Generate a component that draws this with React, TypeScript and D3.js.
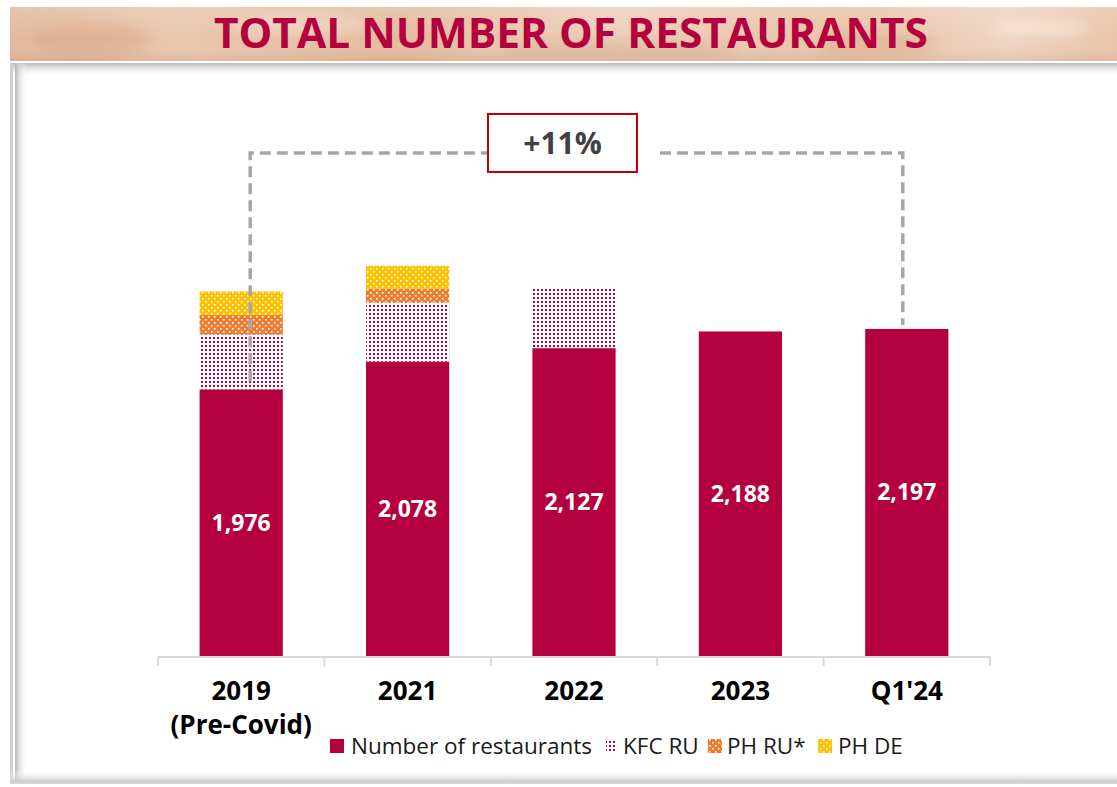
import React from "react";
import * as d3 from "d3";

const categories = ["2019|(Pre-Covid)", "2021", "2022", "2023", "Q1'24"];
const restaurants = [1976, 2078, 2127, 2188, 2197];
const kfcRu = [201, 216, 219, 0, 0];
const phRu = [71, 50, 0, 0, 0];
const phDe = [86, 84, 0, 0, 0];
const seriesNames = ["Number of restaurants", "KFC RU", "PH RU*", "PH DE"];
const growthLabel = "+11%";
const title = "TOTAL NUMBER OF RESTAURANTS";

const W = 1117;
const H = 787;
const CRIMSON = "#b50040";
const ORANGE = "#ed7d31";
const GOLD = "#ffc000";
const FONT = "'Open Sans', 'Noto Sans', sans-serif";

export default function App() {
  const x = d3.scaleBand<string>().domain(categories).range([158, 990]).paddingInner(0.5).paddingOuter(0.25);
  const y = d3.scaleLinear().domain([1000, 3000]).range([656, 109.6]);
  const yMin = 1000;

  const rows = categories.map((c, i) => ({
    cat: c,
    main: restaurants[i],
    kfc: kfcRu[i],
    phru: phRu[i],
    phde: phDe[i],
  }));
  const stack = d3.stack<any>().keys(["main", "kfc", "phru", "phde"])(rows);
  const fills = [CRIMSON, "url(#kfc)", "url(#phru)", "url(#phde)"];

  const bw = x.bandwidth();
  const step = x.step();
  const axisStart = x(categories[0])! - (step - bw) / 2;
  const tickXs = categories.map((c) => x(c)! - (step - bw) / 2).concat([axisStart + step * categories.length]);

  const cx = (c: string) => x(c)! + bw / 2;
  const leftX = cx(categories[0]) + 9;
  const rightX = cx(categories[categories.length - 1]) - 4;
  const bracketY = 153;
  const boxX0 = 488;
  const boxX1 = 637;

  const legendItems = [
    { name: seriesNames[0], mx: 330, mw: 14, tx: 351, fill: CRIMSON },
    { name: seriesNames[1], mx: 606, mw: 10, tx: 623, fill: "url(#kfcL)" },
    { name: seriesNames[2], mx: 708, mw: 14, tx: 727, fill: "url(#phru)" },
    { name: seriesNames[3], mx: 818, mw: 14, tx: 838, fill: "url(#phde)" },
  ];

  return (
    <svg width={W} height={H} style={{ position: "absolute", left: 0, top: 0, background: "#fff" }}>
      <defs>
        <linearGradient id="hdr" x1="0" x2="1" y1="0" y2="0">
          <stop offset="0" stopColor="#e2b89c" />
          <stop offset="0.15" stopColor="#e9c7ae" />
          <stop offset="0.35" stopColor="#e4bb9e" />
          <stop offset="0.55" stopColor="#edd0bb" />
          <stop offset="0.75" stopColor="#e8c3a7" />
          <stop offset="0.9" stopColor="#efd3bf" />
          <stop offset="1" stopColor="#e9c4a9" />
        </linearGradient>
        <linearGradient id="hdrV" x1="0" x2="0" y1="0" y2="1">
          <stop offset="0" stopColor="#ffffff" stopOpacity="0.15" />
          <stop offset="0.6" stopColor="#ffffff" stopOpacity="0" />
          <stop offset="1" stopColor="#b07a5a" stopOpacity="0.18" />
        </linearGradient>
        <filter id="blur" x="-20%" y="-50%" width="140%" height="200%">
          <feGaussianBlur stdDeviation="6" />
        </filter>
        <linearGradient id="shTop" x1="0" x2="0" y1="0" y2="1">
          <stop offset="0" stopColor="#b8b8b8" />
          <stop offset="1" stopColor="#ffffff" stopOpacity="0" />
        </linearGradient>
        <linearGradient id="shLeft" x1="0" x2="1" y1="0" y2="0">
          <stop offset="0" stopColor="#b8b8b8" />
          <stop offset="1" stopColor="#ffffff" stopOpacity="0" />
        </linearGradient>
        <linearGradient id="shBot" x1="0" x2="0" y1="1" y2="0">
          <stop offset="0" stopColor="#c8c8c8" />
          <stop offset="1" stopColor="#ffffff" stopOpacity="0" />
        </linearGradient>
        <pattern id="kfc" width="4" height="4" patternUnits="userSpaceOnUse">
          <rect width="4" height="4" fill="#fff" />
          <rect x="1" y="1" width="2" height="2" fill={CRIMSON} />
        </pattern>
        <pattern id="kfcL" width="4" height="4" patternUnits="userSpaceOnUse">
          <rect width="4" height="4" fill="#fff" />
          <rect x="1" y="1" width="2" height="2" fill={CRIMSON} />
        </pattern>
        <pattern id="phru" width="6" height="6" patternUnits="userSpaceOnUse">
          <rect width="6" height="6" fill={ORANGE} />
          <rect x="1" y="1" width="1.6" height="1.6" fill="#fff" />
          <rect x="4" y="4" width="1.6" height="1.6" fill="#fff" />
        </pattern>
        <pattern id="phde" width="6" height="6" patternUnits="userSpaceOnUse">
          <rect width="6" height="6" fill={GOLD} />
          <rect x="1" y="1" width="1.6" height="1.6" fill="#fff" />
          <rect x="4" y="4" width="1.6" height="1.6" fill="#fff" />
        </pattern>
      </defs>

      {/* header band */}
      <g>
        <rect x={10} y={7} width={W - 10} height={54} fill="url(#hdr)" />
        <g filter="url(#blur)" opacity={0.55}>
          <ellipse cx={90} cy={40} rx={60} ry={18} fill="#d9a988" />
          <ellipse cx={300} cy={25} rx={70} ry={10} fill="#f3dccb" />
          <ellipse cx={620} cy={50} rx={120} ry={10} fill="#d8ad90" />
          <ellipse cx={1040} cy={28} rx={50} ry={8} fill="#fbece2" />
          <ellipse cx={880} cy={45} rx={60} ry={12} fill="#dcae8f" />
        </g>
        <rect x={10} y={7} width={W - 10} height={54} fill="url(#hdrV)" />
        <rect x={10} y={61} width={W - 10} height={2} fill="#ffffff" />
        <text
          x={571}
          y={48}
          textAnchor="middle"
          fontFamily={FONT}
          fontWeight={700}
          fontSize={42}
          fill={CRIMSON}
          textLength={714}
          lengthAdjust="spacingAndGlyphs"
        >
          {title}
        </text>
      </g>

      {/* panel */}
      <g>
        <rect x={10} y={63} width={W - 10} height={721} fill="#fff" />
        <rect x={10} y={63} width={W - 10} height={14} fill="url(#shTop)" />
        <rect x={10} y={63} width={3} height={721} fill="#d0d0d0" />
        <rect x={15} y={63} width={12} height={721} fill="url(#shLeft)" />
        <rect x={10} y={770} width={W - 10} height={12} fill="url(#shBot)" />
        <rect x={10} y={782} width={W - 10} height={2} fill="#d4d4d4" />
      </g>

      {/* bars */}
      <g>
        {stack.map((s, k) => (
          <g key={k}>
            {s.map((d: any, j: number) => {
              const lo = Math.max(d[0], yMin);
              const hi = d[1];
              return hi - lo > 0 ? (
                <rect
                  key={j}
                  x={x(categories[j])}
                  y={y(hi)}
                  width={bw}
                  height={y(lo) - y(hi)}
                  fill={fills[k]}
                />
              ) : null;
            })}
          </g>
        ))}
      </g>

      {/* value labels */}
      <g>
        {restaurants.map((v, i) => (
          <text
            key={i}
            x={cx(categories[i])}
            y={(y(yMin) + y(v)) / 2 + 8}
            textAnchor="middle"
            fontFamily={FONT}
            fontWeight={700}
            fontSize={23}
            fill="#fff"
          >
            {d3.format(",")(v)}
          </text>
        ))}
      </g>

      {/* axis */}
      <g stroke="#d9d9d9" strokeWidth={2}>
        <line x1={tickXs[0]} x2={tickXs[tickXs.length - 1]} y1={657} y2={657} />
        {tickXs.map((t, i) => (
          <line key={i} x1={t} x2={t} y1={657} y2={666} />
        ))}
      </g>
      <g fontFamily={FONT} fontWeight={700} fontSize={26} fill="#000" textAnchor="middle">
        {categories.map((c, i) => (
          <text key={i} x={cx(c)} y={700}>
            {c.split("|").map((ln, k) => (
              <tspan key={k} x={cx(c)} dy={k === 0 ? 0 : 34}>
                {ln}
              </tspan>
            ))}
          </text>
        ))}
      </g>

      {/* bracket */}
      <g stroke="#a6a6a6" strokeWidth={3.5} strokeDasharray="11 6" fill="none">
        <polyline points={`${leftX},${y(restaurants[0]) - 8} ${leftX},${bracketY} ${boxX0},${bracketY}`} />
        <polyline
          points={`${660},${bracketY} ${rightX},${bracketY} ${rightX},${y(restaurants[restaurants.length - 1]) - 4}`}
        />
      </g>
      <rect x={boxX0} y={114} width={boxX1 - boxX0} height={58} fill="#fff" stroke="#c00000" strokeWidth={2} />
      <text
        x={(boxX0 + boxX1) / 2}
        y={154}
        textAnchor="middle"
        fontFamily={FONT}
        fontWeight={700}
        fontSize={30}
        fill="#404040"
      >
        {growthLabel}
      </text>

      {/* legend */}
      <g fontFamily={FONT} fontSize={22.5} fill="#1a1a1a">
        {legendItems.map((l, i) => (
          <g key={i}>
            <rect x={l.mx} y={739} width={l.mw} height={14} fill={l.fill} />
            <text x={l.tx} y={754}>
              {l.name}
            </text>
          </g>
        ))}
      </g>
    </svg>
  );
}
